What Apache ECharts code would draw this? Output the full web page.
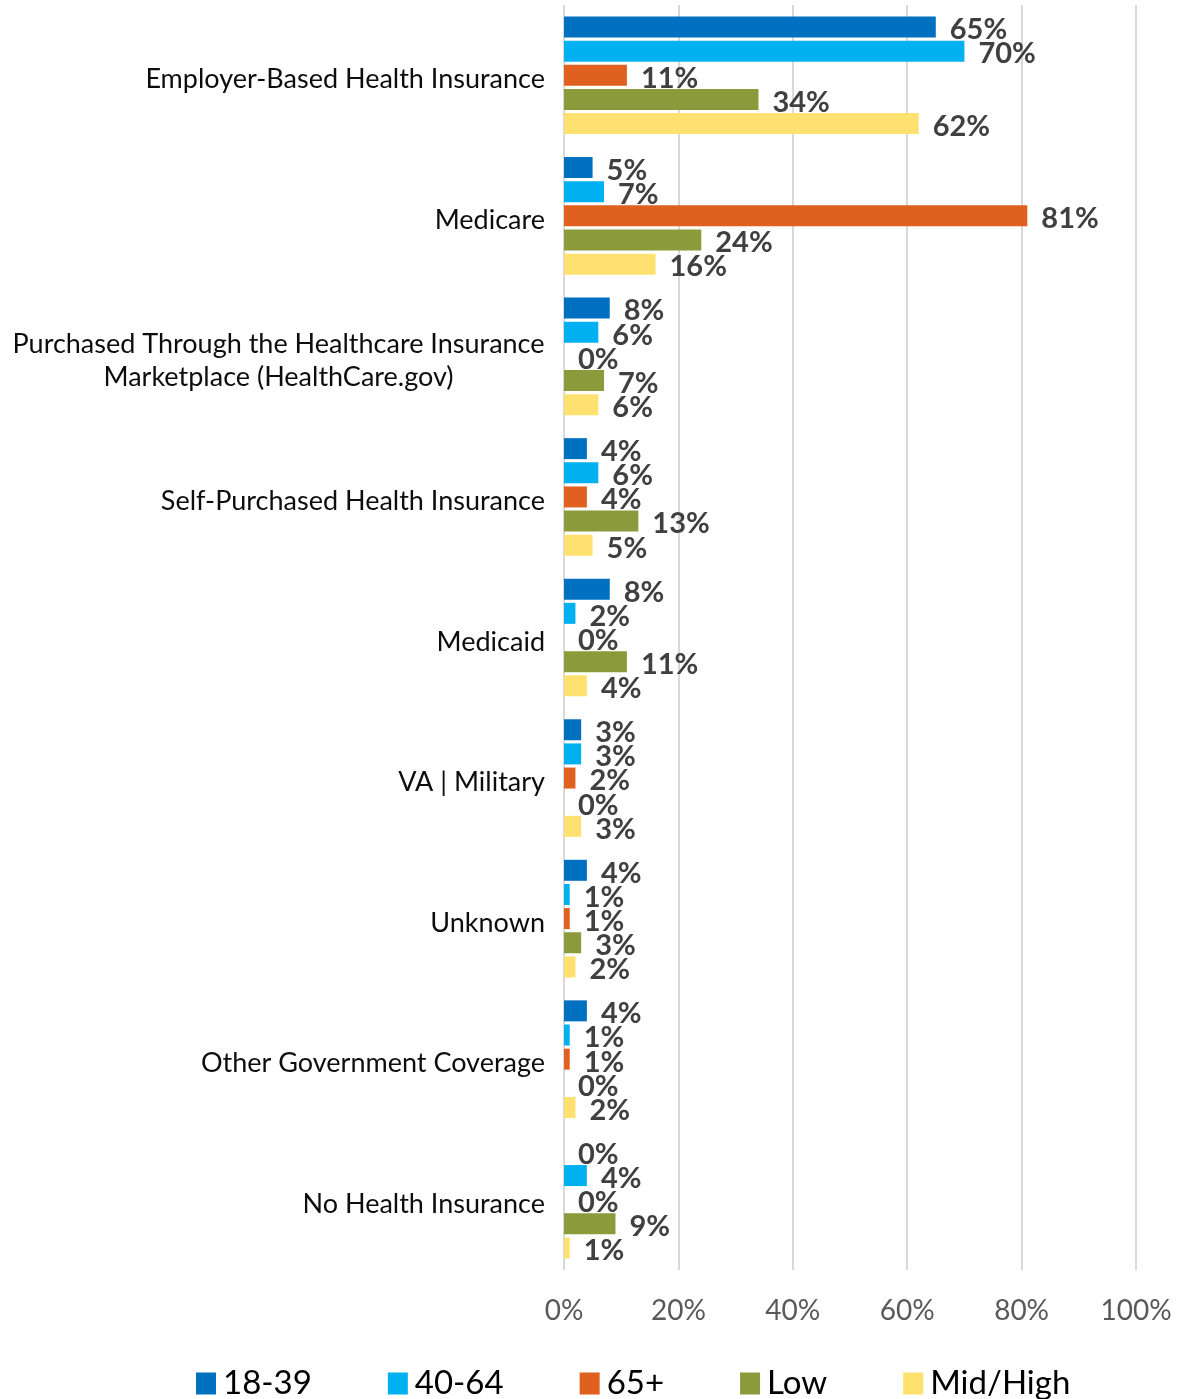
<!DOCTYPE html>
<html>
<head>
<meta charset="utf-8">
<script src="https://cdn.jsdelivr.net/npm/echarts@6/dist/echarts.min.js"></script>
<style>
html,body{margin:0;padding:0;background:#fff;}
#chart{width:1191px;height:1399px;}
</style>
</head>
<body>
<div id="chart"></div>
<script>
const categories = [
  'Employer-Based Health Insurance',
  'Medicare',
  'Purchased Through the Healthcare Insurance\nMarketplace (HealthCare.gov)',
  'Self-Purchased Health Insurance',
  'Medicaid',
  'VA | Military',
  'Unknown',
  'Other Government Coverage',
  'No Health Insurance'
];
const seriesNames = ['18-39', '40-64', '65+', 'Low', 'Mid/High'];
const age1839 = [65, 5, 8, 4, 8, 3, 4, 4, 0];
const age4064 = [70, 7, 6, 6, 2, 3, 1, 1, 4];
const age65 = [11, 81, 0, 4, 0, 2, 1, 1, 0];
const incomeLow = [34, 24, 7, 13, 11, 0, 3, 0, 9];
const incomeMidHigh = [62, 16, 6, 5, 4, 3, 2, 2, 1];
const xTicks = [0, 20, 40, 60, 80, 100];

const colors = ['#0070C0', '#00B0F0', '#E0601F', '#8B9A3B', '#FFE16F'];
const seriesData = [age1839, age4064, age65, incomeLow, incomeMidHigh];

const catFontSize = 27;
const ctx = document.createElement('canvas').getContext('2d');
ctx.font = catFontSize + 'px Lato';

function catFormatter(v) {
  const lines = v.split('\n');
  if (lines.length === 1) return v;
  return lines.map(l => '{c|' + l + '}').join('\n');
}
function catWidth(v) {
  const lines = v.split('\n');
  return Math.ceil(Math.max.apply(null, lines.map(l => ctx.measureText(l).width)));
}
const wrapW = catWidth(categories[2]);

const chart = echarts.init(document.getElementById('chart'), null, {renderer: 'canvas'});
chart.setOption({
  backgroundColor: '#fff',
  animation: false,
  color: colors,
  grid: {left: 564, right: 55, top: 5, bottom: 129, containLabel: false},
  legend: {
    data: seriesNames,
    left: 191,
    top: 1362,
    icon: 'rect',
    itemWidth: 20,
    itemHeight: 22,
    itemGap: 76,
    textStyle: {fontFamily: 'Lato', fontSize: 33, color: '#000', padding: [0, 0, 0, 2]}
  },
  xAxis: {
    type: 'value',
    min: 0,
    max: 100,
    interval: 20,
    axisLine: {show: false},
    axisTick: {show: false},
    splitLine: {show: true, lineStyle: {color: '#D9D9D9', width: 2}},
    axisLabel: {
      formatter: v => xTicks.includes(v) ? v + '%' : '',
      fontFamily: 'Lato', fontSize: 28, color: '#595959', margin: 27
    }
  },
  yAxis: {
    type: 'category',
    data: categories,
    inverse: true,
    axisLine: {show: false},
    axisTick: {show: false},
    splitLine: {show: false},
    axisLabel: {
      fontFamily: 'Lato', fontSize: catFontSize, color: '#0D0D0D', margin: 19,
      lineHeight: 33,
      padding: [9, 0, 0, 0],
      formatter: catFormatter,
      rich: {c: {width: wrapW, align: 'center', fontFamily: 'Lato', fontSize: catFontSize, color: '#0D0D0D', lineHeight: 33}}
    }
  },
  series: seriesNames.map((name, i) => ({
    name: name,
    type: 'bar',
    data: seriesData[i],
    barWidth: 21,
    barGap: '15%',
    itemStyle: {color: colors[i]},
    label: {
      show: true,
      position: 'right',
      distance: 14,
      offset: [0, 3],
      formatter: '{c}%',
      fontFamily: 'Lato',
      fontWeight: 'bold',
      fontSize: 29,
      color: '#404040'
    }
  }))
});
</script>
</body>
</html>
